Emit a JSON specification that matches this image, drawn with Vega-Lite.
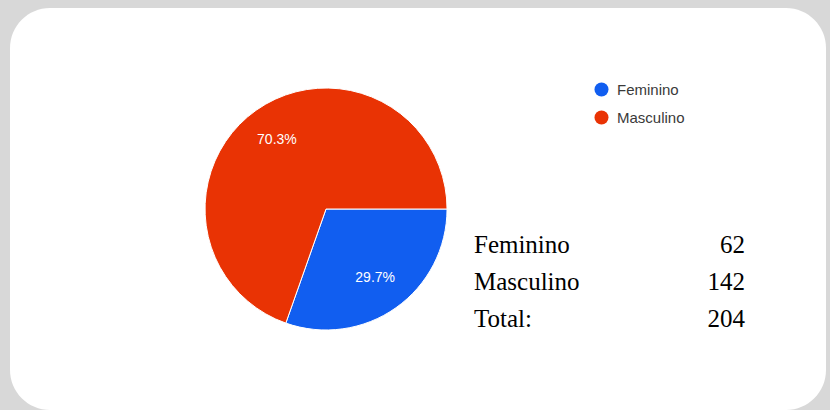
{
  "$schema": "https://vega.github.io/schema/vega-lite/v6.json",
  "width": 830,
  "height": 410,
  "autosize": {"type": "fit", "contains": "padding"},
  "padding": {"left": 10, "top": 8, "right": 4, "bottom": 0},
  "background": "#d8d8d8",
  "config": {"view": {"fill": "#ffffff", "stroke": null, "cornerRadius": 40}},
  "datasets": {
    "sexo": [
      {"sexo": "Feminino", "n": 62, "pct": "29.7%"},
      {"sexo": "Masculino", "n": 142, "pct": "70.3%"}
    ],
    "tabela": [
      {"rotulo": "Feminino", "n": 62, "fila": 1},
      {"rotulo": "Masculino", "n": 142, "fila": 2},
      {"rotulo": "Total:", "n": 204, "fila": 3}
    ]
  },
  "layer": [
    {
      "data": {"name": "sexo"},
      "mark": {"type": "arc", "radius": 121, "stroke": "#ffffff", "strokeWidth": 1},
      "encoding": {
        "theta": {"field": "n", "type": "quantitative", "stack": true, "scale": {"range": [1.5708, 7.854]}},
        "color": {
          "field": "sexo", "type": "nominal",
          "scale": {"domain": ["Feminino", "Masculino"], "range": ["#115ef0", "#e93304"]},
          "legend": {
            "orient": "none", "legendX": 584, "legendY": 74, "title": null,
            "symbolType": "circle", "symbolSize": 196, "symbolStrokeWidth": 0,
            "labelFont": "Liberation Sans", "labelFontSize": 15, "labelColor": "#3a3a3a",
            "labelOffset": 8, "rowPadding": 12, "padding": 0
          }
        },
        "x": {"datum": 38.73, "type": "quantitative", "scale": {"domain": [0, 100]}, "axis": null}
      }
    },
    {
      "data": {"name": "sexo"},
      "mark": {"type": "text", "radius": 85, "color": "#ffffff", "font": "Liberation Sans", "fontSize": 14, "align": "center", "baseline": "middle"},
      "encoding": {
        "theta": {"field": "n", "type": "quantitative", "stack": true, "scale": {"range": [1.5708, 7.854]}},
        "detail": {"field": "sexo", "type": "nominal"},
        "text": {"field": "pct", "type": "nominal"},
        "x": {"datum": 38.73, "type": "quantitative", "scale": {"domain": [0, 100]}, "axis": null}
      }
    },
    {
      "data": {"name": "tabela"},
      "mark": {"type": "text", "align": "left", "baseline": "alphabetic", "font": "Liberation Serif", "fontSize": 25, "color": "#000000"},
      "encoding": {
        "x": {"datum": 56.86, "type": "quantitative", "scale": {"domain": [0, 100]}, "axis": null},
        "y": {"field": "fila", "type": "quantitative", "scale": {"domain": [-5.622, 5.243], "reverse": true}, "axis": null},
        "text": {"field": "rotulo", "type": "nominal"}
      }
    },
    {
      "data": {"name": "tabela"},
      "mark": {"type": "text", "align": "right", "baseline": "alphabetic", "font": "Liberation Serif", "fontSize": 25, "color": "#000000"},
      "encoding": {
        "x": {"datum": 90.07, "type": "quantitative", "scale": {"domain": [0, 100]}, "axis": null},
        "y": {"field": "fila", "type": "quantitative", "scale": {"domain": [-5.622, 5.243], "reverse": true}, "axis": null},
        "text": {"field": "n", "type": "quantitative"}
      }
    }
  ]
}
